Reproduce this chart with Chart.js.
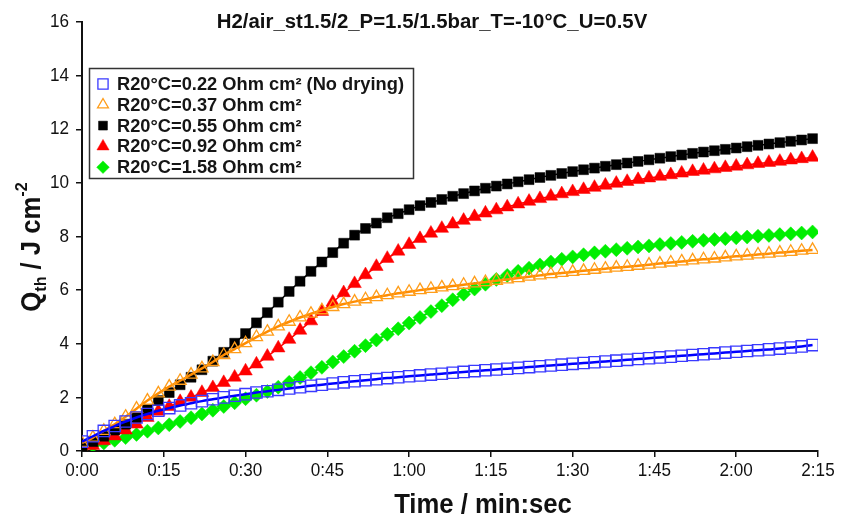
<!DOCTYPE html>
<html>
<head>
<meta charset="utf-8">
<script src="https://cdn.jsdelivr.net/npm/chart.js@4.4.0/dist/chart.umd.min.js"></script>
<style>
  html, body { margin: 0; padding: 0; background: #fff; }
  canvas { display: block; }
</style>
</head>
<body>
<canvas id="heatChart" width="844" height="520"></canvas>
<script>
// time in seconds (one reading every 2 s)
const times = [0,2,4,6,8,10,12,14,16,18,20,22,24,26,28,30,32,34,36,38,40,42,44,46,48,50,52,54,56,58,60,62,64,66,
  68,70,72,74,76,78,80,82,84,86,88,90,92,94,96,98,100,102,104,106,108,110,112,114,116,118,120,122,124,126,128,130,132,134];

const labels = ['R20°C=0.22 Ohm cm² (No drying)', 'R20°C=0.37 Ohm cm²', 'R20°C=0.55 Ohm cm²',
  'R20°C=0.92 Ohm cm²', 'R20°C=1.58 Ohm cm²'];

const q022 = [0.35,0.55,0.75,0.93,1.1,1.25,1.38,1.5,1.6,1.7,1.78,1.86,1.93,2.0,2.06,2.12,2.18,2.23,2.28,2.33,2.38,2.43,2.47,2.52,2.56,2.6,2.64,2.68,2.72,2.75,2.79,2.82,2.85,2.88,
  2.92,2.95,2.98,3.01,3.04,3.07,3.1,3.13,3.16,3.19,3.22,3.25,3.28,3.31,3.34,3.37,3.4,3.43,3.46,3.49,3.52,3.55,3.58,3.61,3.64,3.67,3.7,3.73,3.76,3.79,3.82,3.86,3.9,3.95];
const q037 = [0.3,0.5,0.75,1.0,1.28,1.58,1.88,2.15,2.4,2.62,2.85,3.08,3.32,3.58,3.8,4.02,4.25,4.45,4.65,4.82,4.98,5.12,5.25,5.37,5.48,5.57,5.66,5.74,5.81,5.88,5.94,6.0,6.05,6.1,
  6.15,6.2,6.25,6.3,6.35,6.4,6.45,6.5,6.55,6.6,6.64,6.68,6.72,6.76,6.8,6.84,6.87,6.91,6.95,6.99,7.03,7.07,7.11,7.15,7.18,7.22,7.26,7.29,7.33,7.36,7.4,7.43,7.47,7.5];
const q055 = [0.15,0.35,0.55,0.78,1.0,1.25,1.55,1.88,2.18,2.47,2.75,3.03,3.35,3.68,4.02,4.38,4.78,5.16,5.55,5.95,6.33,6.7,7.05,7.4,7.75,8.05,8.3,8.5,8.7,8.85,9.0,9.15,9.27,9.38,
  9.5,9.6,9.7,9.8,9.88,9.96,10.04,10.12,10.2,10.28,10.35,10.42,10.49,10.55,10.62,10.68,10.74,10.8,10.86,10.92,10.98,11.04,11.1,11.15,11.2,11.25,11.3,11.35,11.4,11.45,11.5,11.55,11.6,11.65];
const q092 = [0.05,0.2,0.38,0.56,0.78,1.0,1.25,1.48,1.66,1.84,2.0,2.18,2.36,2.55,2.75,2.98,3.24,3.53,3.84,4.16,4.5,4.85,5.2,5.55,5.9,6.24,6.57,6.88,7.18,7.45,7.7,7.92,8.12,8.3,
  8.46,8.6,8.74,8.87,8.99,9.1,9.21,9.31,9.41,9.5,9.59,9.67,9.75,9.83,9.91,9.98,10.05,10.12,10.18,10.24,10.3,10.36,10.42,10.47,10.52,10.57,10.62,10.67,10.72,10.76,10.8,10.85,10.9,10.95];
const q158 = [0.1,0.2,0.3,0.4,0.5,0.62,0.74,0.86,0.98,1.1,1.24,1.38,1.52,1.66,1.8,1.95,2.08,2.22,2.38,2.56,2.74,2.92,3.12,3.32,3.52,3.72,3.93,4.14,4.35,4.56,4.77,4.98,5.2,5.42,
  5.64,5.85,6.04,6.22,6.4,6.55,6.7,6.82,6.94,7.05,7.15,7.24,7.32,7.39,7.45,7.51,7.56,7.61,7.65,7.7,7.74,7.78,7.82,7.86,7.89,7.92,7.95,7.98,8.01,8.04,8.07,8.1,8.13,8.17];

const xTicks = [0,15,30,45,60,75,90,105,120,135];
const yTicks = [0,2,4,6,8,10,12,14,16];

function mmss(v) {
  const m = Math.floor(v / 60), s = v % 60;
  return m + ':' + (s < 10 ? '0' : '') + s;
}

function pts(arr) {
  return arr.map((q, i) => ({ x: times[i], y: q }));
}

// condensed text, the original uses a narrow sans
function narrowText(ctx, text, x, y, font, k, align) {
  ctx.save();
  ctx.font = font;
  const w = ctx.measureText(text).width * k;
  let x0 = x;
  if (align === 'center') x0 = x - w / 2;
  if (align === 'right') x0 = x - w;
  ctx.translate(x0, y);
  ctx.scale(k, 1);
  ctx.textAlign = 'left';
  ctx.fillText(text, 0, 0);
  ctx.restore();
}

const FONT = '"Liberation Sans", Arial, sans-serif';

const decorations = {
  id: 'decorations',
  afterDraw(chart) {
    const ctx = chart.ctx;
    const xs = chart.scales.x, ys = chart.scales.y;
    ctx.save();
    ctx.fillStyle = '#111';
    ctx.textBaseline = 'alphabetic';

    // title
    narrowText(ctx, 'H2/air_st1.5/2_P=1.5/1.5bar_T=-10°C_U=0.5V', 432, 28, 'bold 20px ' + FONT, 1.02, 'center');

    // tick labels
    ctx.textBaseline = 'middle';
    xTicks.forEach(v => {
      narrowText(ctx, mmss(v), xs.getPixelForValue(v), 471, '19px ' + FONT, 0.9, 'center');
    });
    yTicks.forEach(v => {
      narrowText(ctx, String(v), 69, ys.getPixelForValue(v), '19px ' + FONT, 0.9, 'right');
    });

    // x axis title
    ctx.textBaseline = 'alphabetic';
    narrowText(ctx, 'Time / min:sec', 483, 513, 'bold 27px ' + FONT, 0.95, 'center');

    // y axis title with sub/superscript
    ctx.save();
    ctx.translate(40, 247);
    ctx.rotate(-Math.PI / 2);
    const parts = [
      { t: 'Q', f: 'bold 27px ' + FONT, dy: 0 },
      { t: 'th', f: 'bold 17px ' + FONT, dy: 6 },
      { t: ' / J cm', f: 'bold 27px ' + FONT, dy: 0 },
      { t: '-2', f: 'bold 17px ' + FONT, dy: -13 }
    ];
    let total = 0;
    parts.forEach(p => { ctx.font = p.f; p.w = ctx.measureText(p.t).width * 0.95; total += p.w; });
    let px = -total / 2;
    parts.forEach(p => { narrowText(ctx, p.t, px, p.dy, p.f, 0.95, 'left'); px += p.w; });
    ctx.restore();

    // legend box
    ctx.strokeStyle = '#333';
    ctx.lineWidth = 1.5;
    ctx.strokeRect(89.5, 68.5, 324, 110);
    chart.data.datasets.forEach((ds, i) => {
      const cy = 84 + i * 20.8;
      ctx.fillStyle = ds.pointBackgroundColor;
      ctx.strokeStyle = ds.pointBorderColor;
      ctx.lineWidth = ds.pointBorderWidth;
      Chart.helpers.drawPoint(ctx, {
        pointStyle: ds.pointStyle, radius: ds.pointRadius * 0.9, rotation: 0, borderWidth: ds.pointBorderWidth
      }, 103, cy);
      ctx.fillStyle = '#151515';
      ctx.textBaseline = 'middle';
      narrowText(ctx, ds.label, 117, cy + 1, 'bold 18px ' + FONT, 1.015, 'left');
    });
    ctx.restore();
  }
};

const series = [q022, q037, q055, q092, q158];
const looks = [
  { line: '#0000ff', lw: 2.5, style: 'rect', r: 8, fill: 'rgba(0,0,0,0)', edge: '#3a3aff', ew: 1.3 },
  { line: '#ff8c00', lw: 2.5, style: 'triangle', r: 7, fill: 'rgba(0,0,0,0)', edge: '#ff9d1a', ew: 1.3 },
  { line: '#000000', lw: 1.5, style: 'rect', r: 7, fill: '#000000', edge: '#000000', ew: 0.5 },
  { line: '#ff0000', lw: 1.5, style: 'triangle', r: 7.8, fill: '#ff0000', edge: '#ff0000', ew: 0.5 },
  { line: '#00dd00', lw: 2, style: 'rectRot', r: 7, fill: '#00ee00', edge: '#00ee00', ew: 0.5 }
];

new Chart(document.getElementById('heatChart'), {
  type: 'line',
  data: {
    datasets: series.map((s, i) => ({
      label: labels[i],
      data: pts(s),
      borderColor: looks[i].line,
      borderWidth: looks[i].lw,
      pointStyle: looks[i].style,
      pointRadius: looks[i].r,
      pointBackgroundColor: looks[i].fill,
      pointBorderColor: looks[i].edge,
      pointBorderWidth: looks[i].ew,
      fill: false,
      tension: 0.3
    }))
  },
  options: {
    responsive: false,
    animation: false,
    layout: { padding: { left: 0, right: 26, top: 22, bottom: 0 } },
    plugins: { legend: { display: false }, title: { display: false }, tooltip: { enabled: false } },
    scales: {
      x: {
        type: 'linear', min: 0, max: 135,
        afterFit: s => { s.height = 69; },
        afterBuildTicks: s => { s.ticks = xTicks.map(v => ({ value: v })); },
        ticks: { color: 'rgba(0,0,0,0)', font: { size: 16 } },
        grid: { drawOnChartArea: false, drawTicks: true, tickLength: 6, color: '#111', lineWidth: 1.5 },
        border: { color: '#111', width: 2 }
      },
      y: {
        min: 0, max: 16,
        afterFit: s => { s.width = 82; },
        afterBuildTicks: s => { s.ticks = yTicks.map(v => ({ value: v })); },
        ticks: { color: 'rgba(0,0,0,0)', font: { size: 16 } },
        grid: { drawOnChartArea: false, drawTicks: true, tickLength: 6, color: '#111', lineWidth: 1.5 },
        border: { color: '#111', width: 2 }
      }
    }
  },
  plugins: [decorations]
});
</script>
</body>
</html>
